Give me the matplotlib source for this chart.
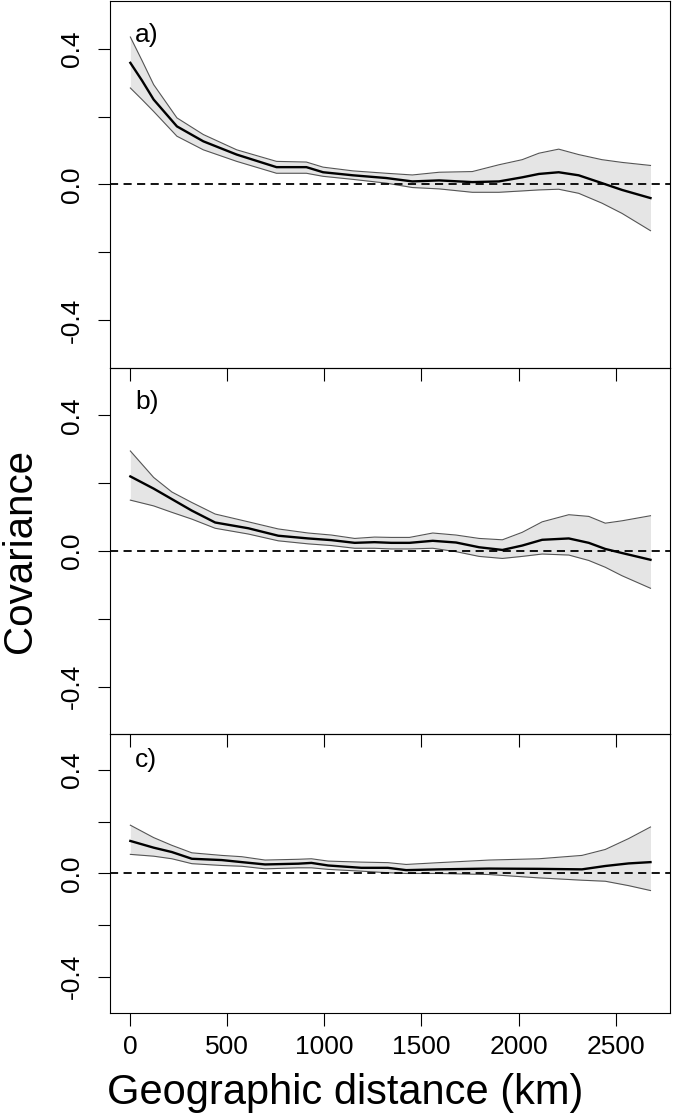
import matplotlib
matplotlib.use('Agg')
import matplotlib.pyplot as plt
import matplotlib.ticker as mticker

plt.rcParams['font.family'] = ['Liberation Sans', 'DejaVu Sans']

# ── Data ─────────────────────────────────────────────────────────────────────
dist_a  = [0, 60, 120, 240, 376, 548, 753, 907, 993, 1147, 1318, 1453, 1591,
           1762, 1899, 2019, 2105, 2207, 2310, 2430, 2533, 2680]
mean_a  = [0.358, 0.306, 0.250, 0.171, 0.127, 0.088, 0.051, 0.051, 0.036, 0.027,
           0.019, 0.009, 0.012, 0.007, 0.009, 0.021, 0.031, 0.036, 0.027, 0.004,
           -0.016, -0.040]
upper_a = [0.434, 0.365, 0.294, 0.196, 0.147, 0.102, 0.068, 0.066, 0.051, 0.040,
           0.033, 0.028, 0.036, 0.038, 0.058, 0.073, 0.092, 0.104, 0.088, 0.073,
           0.065, 0.056]
lower_a = [0.284, 0.250, 0.215, 0.142, 0.102, 0.068, 0.033, 0.033, 0.024, 0.015,
           0.004, -0.009, -0.013, -0.023, -0.023, -0.019, -0.016, -0.014, -0.026,
           -0.055, -0.085, -0.136]

dist_b  = [0, 120, 214, 317, 437, 608, 762, 916, 1036, 1156, 1258, 1344, 1438,
           1558, 1678, 1797, 1917, 2019, 2122, 2259, 2362, 2447, 2533, 2680]
mean_b  = [0.220, 0.184, 0.153, 0.119, 0.084, 0.067, 0.045, 0.037, 0.032, 0.024,
           0.026, 0.024, 0.024, 0.030, 0.025, 0.011, 0.003, 0.016, 0.033, 0.037,
           0.024, 0.006, -0.006, -0.026]
upper_b = [0.295, 0.217, 0.174, 0.143, 0.109, 0.086, 0.065, 0.053, 0.047, 0.037,
           0.041, 0.040, 0.040, 0.053, 0.047, 0.037, 0.033, 0.055, 0.086, 0.107,
           0.102, 0.082, 0.089, 0.104]
lower_b = [0.150, 0.133, 0.114, 0.094, 0.067, 0.050, 0.030, 0.021, 0.016, 0.008,
           0.008, 0.006, 0.006, 0.008, -0.002, -0.016, -0.022, -0.016, -0.009,
           -0.012, -0.028, -0.048, -0.073, -0.110]

dist_c  = [0, 120, 214, 317, 471, 574, 694, 865, 933, 1019, 1190, 1327, 1421,
           1591, 1848, 2105, 2327, 2447, 2567, 2680]
mean_c  = [0.126, 0.100, 0.083, 0.057, 0.052, 0.044, 0.035, 0.038, 0.041, 0.031,
           0.022, 0.022, 0.013, 0.016, 0.019, 0.018, 0.016, 0.029, 0.039, 0.044]
upper_c = [0.187, 0.139, 0.109, 0.080, 0.070, 0.065, 0.052, 0.055, 0.057, 0.048,
           0.044, 0.042, 0.035, 0.042, 0.052, 0.057, 0.070, 0.093, 0.135, 0.180]
lower_c = [0.074, 0.067, 0.057, 0.038, 0.031, 0.028, 0.018, 0.022, 0.022, 0.016,
           0.009, 0.003, 0.000, 0.000, -0.004, -0.017, -0.026, -0.030, -0.047,
           -0.066]

panel_labels = ['a)', 'b)', 'c)']
x_ticks = [0, 500, 1000, 1500, 2000, 2500]
y_ticks = [-0.4, -0.2, 0.0, 0.2, 0.4]
y_tick_labels = ['-0.4', '', '0.0', '', '0.4']

panels = [
    (dist_a, mean_a, upper_a, lower_a),
    (dist_b, mean_b, upper_b, lower_b),
    (dist_c, mean_c, upper_c, lower_c),
]

# ── Layout: three stacked panels, last one shorter ───────────────────────────
fig = plt.figure(figsize=(6.73, 11.15), dpi=100)
left, width = 0.1634, 0.832
rects = [
    [left, 0.6700, width, 0.3291],
    [left, 0.3417, width, 0.3283],
    [left, 0.0915, width, 0.2502],
]

for i, (rect, (d, m, up, lo)) in enumerate(zip(rects, panels)):
    ax = fig.add_axes(rect)
    ax.set_facecolor('none')

    ax.fill_between(d, lo, up, color='#e5e5e5', linewidth=0, zorder=1)
    ax.plot(d, up, color='#555555', linewidth=0.8, zorder=2)
    ax.plot(d, lo, color='#555555', linewidth=0.8, zorder=2)
    ax.plot(d, m, color='black', linewidth=1.7, zorder=3)
    ax.axhline(0, color='black', linewidth=1.3, dashes=(4.5, 3), zorder=4)

    ax.set_xlim(-105, 2780)
    ax.set_ylim(-0.54, 0.54)

    ax.xaxis.set_major_locator(mticker.FixedLocator(x_ticks))
    ax.yaxis.set_major_locator(mticker.FixedLocator(y_ticks))
    ax.yaxis.set_major_formatter(mticker.FixedFormatter(y_tick_labels))

    ax.tick_params(axis='both', direction='out', length=9, width=0.8,
                   labelsize=19, color='black')
    ax.tick_params(axis='y', pad=10)
    ax.tick_params(axis='x', pad=7, labelbottom=(i == 2))
    for lbl in ax.get_yticklabels():
        lbl.set_rotation(90)
        lbl.set_va('center')

    for sp in ax.spines.values():
        sp.set_linewidth(0.8)

    ax.text(25, 0.44, panel_labels[i], fontsize=19, ha='left', va='center')

# ── Shared axis labels ───────────────────────────────────────────────────────
fig.text(0.030, 0.506, 'Covariance', rotation=90, fontsize=29,
         ha='center', va='center')
fig.text(0.513, 0.020, 'Geographic distance (km)', fontsize=30,
         ha='center', va='center')

fig.savefig('out.png', dpi=100)
plt.close(fig)
